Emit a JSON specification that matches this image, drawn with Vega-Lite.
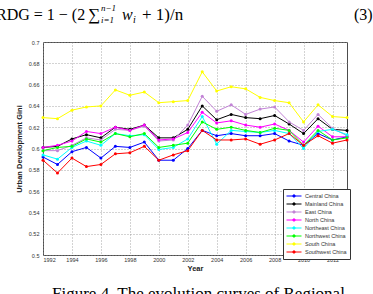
{
  "$schema": "https://vega.github.io/schema/vega-lite/v6.json",
  "width": 304,
  "height": 213,
  "autosize": {"type": "none"},
  "padding": {"left": 43, "top": 42, "right": 26, "bottom": 39},
  "background": "white",
  "config": {
    "view": {"stroke": "#4d4d4d", "strokeWidth": 1},
    "font": "Liberation Sans",
    "axis": {
      "domain": false,
      "ticks": false,
      "grid": true,
      "gridColor": "#8f8f8f",
      "gridDash": [1, 2],
      "gridWidth": 0.8,
      "labelFont": "Liberation Sans",
      "labelFontSize": 5.5,
      "labelColor": "#333333",
      "titleFont": "Liberation Sans",
      "titleFontSize": 7.5,
      "titleFontWeight": "bold",
      "titleColor": "#222222"
    }
  },
  "layer": [
    {
      "data": {
        "values": [
          {"year": 1992, "Central China": 0.592, "Mainland China": 0.601, "East China": 0.598, "North China": 0.601, "Northeast China": 0.594, "Northwest China": 0.598, "South China": 0.629, "Southwest China": 0.589},
          {"year": 1993, "Central China": 0.585, "Mainland China": 0.602, "East China": 0.598, "North China": 0.603, "Northeast China": 0.590, "Northwest China": 0.601, "South China": 0.628, "Southwest China": 0.577},
          {"year": 1994, "Central China": 0.597, "Mainland China": 0.609, "East China": 0.603, "North China": 0.607, "Northeast China": 0.601, "Northwest China": 0.602, "South China": 0.636, "Southwest China": 0.591},
          {"year": 1995, "Central China": 0.601, "Mainland China": 0.613, "East China": 0.610, "North China": 0.616, "Northeast China": 0.607, "Northwest China": 0.609, "South China": 0.639, "Southwest China": 0.583},
          {"year": 1996, "Central China": 0.591, "Mainland China": 0.610, "East China": 0.608, "North China": 0.614, "Northeast China": 0.603, "Northwest China": 0.606, "South China": 0.640, "Southwest China": 0.585},
          {"year": 1997, "Central China": 0.602, "Mainland China": 0.620, "East China": 0.618, "North China": 0.620, "Northeast China": 0.614, "Northwest China": 0.614, "South China": 0.655, "Southwest China": 0.595},
          {"year": 1998, "Central China": 0.601, "Mainland China": 0.618, "East China": 0.617, "North China": 0.617, "Northeast China": 0.612, "Northwest China": 0.611, "South China": 0.650, "Southwest China": 0.596},
          {"year": 1999, "Central China": 0.606, "Mainland China": 0.622, "East China": 0.621, "North China": 0.622, "Northeast China": 0.613, "Northwest China": 0.614, "South China": 0.653, "Southwest China": 0.602},
          {"year": 2000, "Central China": 0.589, "Mainland China": 0.610, "East China": 0.607, "North China": 0.608, "Northeast China": 0.599, "Northwest China": 0.601, "South China": 0.643, "Southwest China": 0.589},
          {"year": 2001, "Central China": 0.589, "Mainland China": 0.610, "East China": 0.608, "North China": 0.609, "Northeast China": 0.601, "Northwest China": 0.603, "South China": 0.644, "Southwest China": 0.594},
          {"year": 2002, "Central China": 0.600, "Mainland China": 0.618, "East China": 0.622, "North China": 0.615, "Northeast China": 0.609, "Northwest China": 0.605, "South China": 0.645, "Southwest China": 0.598},
          {"year": 2003, "Central China": 0.617, "Mainland China": 0.640, "East China": 0.649, "North China": 0.634, "Northeast China": 0.630, "Northwest China": 0.625, "South China": 0.672, "Southwest China": 0.617},
          {"year": 2004, "Central China": 0.612, "Mainland China": 0.627, "East China": 0.635, "North China": 0.624, "Northeast China": 0.604, "Northwest China": 0.618, "South China": 0.654, "Southwest China": 0.608},
          {"year": 2005, "Central China": 0.614, "Mainland China": 0.632, "East China": 0.641, "North China": 0.626, "Northeast China": 0.617, "Northwest China": 0.620, "South China": 0.658, "Southwest China": 0.608},
          {"year": 2006, "Central China": 0.612, "Mainland China": 0.629, "East China": 0.632, "North China": 0.622, "Northeast China": 0.616, "Northwest China": 0.617, "South China": 0.656, "Southwest China": 0.609},
          {"year": 2007, "Central China": 0.612, "Mainland China": 0.628, "East China": 0.637, "North China": 0.620, "Northeast China": 0.615, "Northwest China": 0.615, "South China": 0.648, "Southwest China": 0.604},
          {"year": 2008, "Central China": 0.614, "Mainland China": 0.631, "East China": 0.639, "North China": 0.623, "Northeast China": 0.617, "Northwest China": 0.619, "South China": 0.645, "Southwest China": 0.608},
          {"year": 2009, "Central China": 0.607, "Mainland China": 0.623, "East China": 0.625, "North China": 0.617, "Northeast China": 0.614, "Northwest China": 0.617, "South China": 0.643, "Southwest China": 0.614},
          {"year": 2010, "Central China": 0.603, "Mainland China": 0.614, "East China": 0.617, "North China": 0.606, "Northeast China": 0.600, "Northwest China": 0.603, "South China": 0.625, "Southwest China": 0.603},
          {"year": 2011, "Central China": 0.614, "Mainland China": 0.628, "East China": 0.632, "North China": 0.621, "Northeast China": 0.616, "Northwest China": 0.617, "South China": 0.641, "Southwest China": 0.612},
          {"year": 2012, "Central China": 0.608, "Mainland China": 0.618, "East China": 0.619, "North China": 0.611, "Northeast China": 0.618, "Northwest China": 0.608, "South China": 0.630, "Southwest China": 0.605},
          {"year": 2013, "Central China": 0.611, "Mainland China": 0.617, "East China": 0.612, "North China": 0.611, "Northeast China": 0.613, "Northwest China": 0.610, "South China": 0.629, "Southwest China": 0.608}
        ]
      },
      "transform": [
        {"fold": ["Central China", "Mainland China", "East China", "North China", "Northeast China", "Northwest China", "South China", "Southwest China"], "as": ["region", "gini"]}
      ],
      "mark": {"type": "line", "strokeWidth": 1, "point": {"filled": true, "size": 9}},
      "encoding": {
        "x": {
          "field": "year",
          "type": "quantitative",
          "scale": {"domain": [1992, 2013], "nice": false, "zero": false},
          "axis": {"values": [1992, 1994, 1996, 1998, 2000, 2002, 2004, 2006, 2008, 2010, 2012], "format": "d", "title": "Year", "labelPadding": 2, "titlePadding": 2}
        },
        "y": {
          "field": "gini",
          "type": "quantitative",
          "scale": {"domain": [0.5, 0.7], "nice": false, "zero": false},
          "axis": {"values": [0.5, 0.52, 0.54, 0.56, 0.58, 0.6, 0.62, 0.64, 0.66, 0.68, 0.7], "format": ".2~f", "title": "Urban Development Gini", "labelPadding": 4, "titlePadding": 5}
        },
        "color": {
          "field": "region",
          "type": "nominal",
          "sort": null,
          "scale": {
            "domain": ["Central China", "Mainland China", "East China", "North China", "Northeast China", "Northwest China", "South China", "Southwest China"],
            "range": ["#0000ff", "#000000", "#c283d6", "#ff00ff", "#00ffff", "#00ff00", "#ffff00", "#ff0000"]
          },
          "legend": {
            "title": null,
            "orient": "none",
            "legendX": 240,
            "legendY": 147,
            "symbolType": "M-1,0L1,0M-0.16,0a0.16,0.16 0 1,0 0.32,0a0.16,0.16 0 1,0 -0.32,0",
            "symbolSize": 225,
            "symbolStrokeWidth": 1,
            "labelFont": "Liberation Sans",
            "labelFontSize": 5.5,
            "labelColor": "#333333",
            "labelOffset": 3,
            "clipHeight": 8,
            "rowPadding": 0,
            "padding": 3,
            "strokeColor": "#333333",
            "fillColor": "white"
          }
        }
      }
    },
    {
      "data": {"values": [{"t": "RDG = 1 − (2"}]},
      "mark": {"type": "text", "font": "Liberation Serif", "fontSize": 16, "align": "left", "baseline": "alphabetic", "color": "#000000"},
      "encoding": {"text": {"field": "t"}, "x": {"value": -47}, "y": {"value": -22}}
    },
    {
      "data": {"values": [{"t": "∑"}]},
      "mark": {"type": "text", "font": "Liberation Serif", "fontSize": 17, "align": "left", "baseline": "alphabetic", "color": "#000000"},
      "encoding": {"text": {"field": "t"}, "x": {"value": 45}, "y": {"value": -22}}
    },
    {
      "data": {"values": [{"t": "n−1"}]},
      "mark": {"type": "text", "font": "Liberation Serif", "fontSize": 9, "fontStyle": "italic", "align": "left", "baseline": "alphabetic", "color": "#000000"},
      "encoding": {"text": {"field": "t"}, "x": {"value": 58}, "y": {"value": -31}}
    },
    {
      "data": {"values": [{"t": "i=1"}]},
      "mark": {"type": "text", "font": "Liberation Serif", "fontSize": 9, "fontStyle": "italic", "align": "left", "baseline": "alphabetic", "color": "#000000"},
      "encoding": {"text": {"field": "t"}, "x": {"value": 58}, "y": {"value": -19}}
    },
    {
      "data": {"values": [{"t": "w"}]},
      "mark": {"type": "text", "font": "Liberation Serif", "fontSize": 16, "fontStyle": "italic", "align": "left", "baseline": "alphabetic", "color": "#000000"},
      "encoding": {"text": {"field": "t"}, "x": {"value": 79}, "y": {"value": -22}}
    },
    {
      "data": {"values": [{"t": "i"}]},
      "mark": {"type": "text", "font": "Liberation Serif", "fontSize": 10, "fontStyle": "italic", "align": "left", "baseline": "alphabetic", "color": "#000000"},
      "encoding": {"text": {"field": "t"}, "x": {"value": 90}, "y": {"value": -19}}
    },
    {
      "data": {"values": [{"t": "+ 1)/n"}]},
      "mark": {"type": "text", "font": "Liberation Serif", "fontSize": 17, "align": "left", "baseline": "alphabetic", "color": "#000000"},
      "encoding": {"text": {"field": "t"}, "x": {"value": 99}, "y": {"value": -22}}
    },
    {
      "data": {"values": [{"t": "(3)"}]},
      "mark": {"type": "text", "font": "Liberation Serif", "fontSize": 16, "align": "left", "baseline": "alphabetic", "color": "#000000"},
      "encoding": {"text": {"field": "t"}, "x": {"value": 311}, "y": {"value": -22}}
    },
    {
      "data": {"values": [{"t": "Figure 4. The evolution curves of Regional"}]},
      "mark": {"type": "text", "font": "Liberation Serif", "fontSize": 17, "align": "left", "baseline": "alphabetic", "color": "#000000"},
      "encoding": {"text": {"field": "t"}, "x": {"value": 9}, "y": {"value": 257}}
    }
  ]
}
